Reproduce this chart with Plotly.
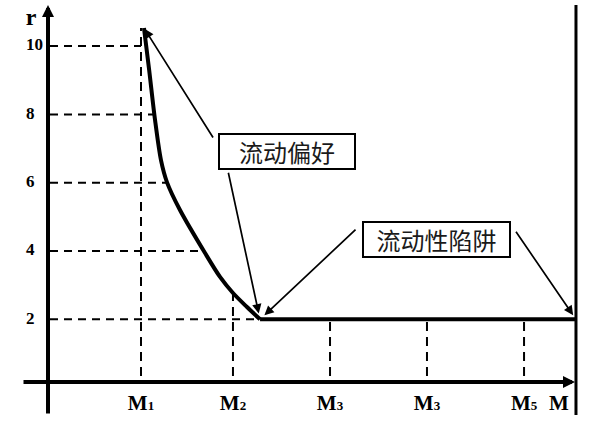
import numpy as np
import plotly.graph_objects as go

# ---------------- data ----------------
r_ticks = [2, 4, 6, 8, 10]
r_tick_labels = ["2", "4", "6", "8", "10"]

m_pos = [1.0, 1.958, 2.969, 3.979, 4.990]
m_names = ["M", "M", "M", "M", "M"]
m_subs = ["1", "2", "3", "3", "5"]
m_axis_label = "M"
r_axis_label = "r"

# liquidity-preference curve
curve_x = [1.031, 1.085, 1.146, 1.208, 1.271, 1.406, 1.667, 1.823, 1.958, 2.104, 2.240]
curve_y = [10.53, 9.30, 7.84, 6.66, 6.01, 5.20, 3.94, 3.24, 2.77, 2.36, 2.00]
# liquidity trap (flat part)
trap_x = [2.240, 5.531]
trap_y = [2.0, 2.0]

box1_text = "流动偏好"
box2_text = "流动性陷阱"

# ---------------- geometry of the canvas ----------------
W, H = 600, 428
X0, XS = 45.0, 96.0        # pixel of x=0, pixels per unit
Y0, YS = 387.6, 34.15      # pixel of r=0, pixels per unit
x_range = [-X0 / XS, (W - X0) / XS]
y_range = [(Y0 - H) / YS, Y0 / YS]

def px(p):   # pixel -> x data
    return (p - X0) / XS

def py(p):   # pixel -> y data
    return (Y0 - p) / YS

fig = go.Figure()

# dashed guide lines
cx_rev = curve_x[::-1]
cy_rev = curve_y[::-1]
h_end = [float(np.interp(r, cy_rev, cx_rev)) for r in r_ticks]
h_end[-1] = m_pos[0]          # the r=10 guide stops at the M1 guide
hx, hy = [], []
for r, e in zip(r_ticks, h_end):
    hx += [px(50), e, None]
    hy += [r, r, None]
fig.add_trace(go.Scatter(x=hx, y=hy, mode="lines",
                         line=dict(color="black", width=2, dash="8px,6px"),
                         hoverinfo="skip"))

v_top = [curve_y[0], float(np.interp(m_pos[1], curve_x, curve_y)) + 0.1] + [trap_y[0]] * 3
vx, vy = [], []
for m, t in zip(m_pos, v_top):
    vx += [m, m, None]
    vy += [py(376), t, None]
fig.add_trace(go.Scatter(x=vx, y=vy, mode="lines",
                         line=dict(color="black", width=2, dash="9px,6px"),
                         hoverinfo="skip"))

# curve
fig.add_trace(go.Scatter(x=curve_x, y=curve_y, mode="lines",
                         line=dict(color="black", width=4, shape="spline", smoothing=0.8),
                         hoverinfo="skip"))
fig.add_trace(go.Scatter(x=trap_x, y=trap_y, mode="lines",
                         line=dict(color="black", width=4),
                         hoverinfo="skip"))

# right boundary line
fig.add_trace(go.Scatter(x=[trap_x[1], trap_x[1]], y=[py(415), py(5)], mode="lines",
                         line=dict(color="black", width=3), hoverinfo="skip"))

serif = "Liberation Serif"
# r tick labels (left aligned)
fig.add_trace(go.Scatter(x=[px(26)] * len(r_ticks), y=r_ticks, mode="text",
                         text=r_tick_labels, textposition="middle right",
                         textfont=dict(family=serif, size=17, color="black", weight="bold"),
                         hoverinfo="skip"))
# M tick labels (small subscript sitting near the baseline)
m_text = [f'{n}<span style="font-size:13px">{s}</span>' for n, s in zip(m_names, m_subs)]
fig.add_trace(go.Scatter(x=m_pos + [px(559)], y=[py(405)] * (len(m_pos) + 1), mode="text",
                         text=m_text + [m_axis_label],
                         textposition="middle center",
                         textfont=dict(family=serif, size=21, color="black", weight="bold"),
                         hoverinfo="skip"))
# r axis label
fig.add_trace(go.Scatter(x=[px(31)], y=[py(19)], mode="text", text=[r_axis_label],
                         textposition="middle center",
                         textfont=dict(family=serif, size=24, color="black", weight="bold"),
                         hoverinfo="skip"))

ann = []
# axes with arrowheads
ann.append(dict(x=px(48), y=py(5), ax=px(48), ay=py(415), xref="x", yref="y",
                axref="x", ayref="y", showarrow=True, arrowhead=2, arrowsize=0.6,
                arrowwidth=4, arrowcolor="black", text=""))
ann.append(dict(x=px(575), y=py(382), ax=px(22), ay=py(382), xref="x", yref="y",
                axref="x", ayref="y", showarrow=True, arrowhead=2, arrowsize=0.6,
                arrowwidth=4, arrowcolor="black", text=""))

cjk = "Noto Sans CJK SC"
# text boxes
ann.append(dict(x=px(287), y=py(151), xref="x", yref="y", text=box1_text, showarrow=False,
                font=dict(family=cjk, size=24, color="#1a1a1a"),
                bordercolor="black", borderwidth=2, borderpad=1, width=132, height=31,
                bgcolor="white"))
ann.append(dict(x=px(436.5), y=py(239), xref="x", yref="y", text=box2_text, showarrow=False,
                font=dict(family=cjk, size=24, color="#1a1a1a"),
                bordercolor="black", borderwidth=2, borderpad=1, width=143, height=31,
                bgcolor="white"))

# pointer arrows
thin = dict(showarrow=True, arrowhead=2, arrowsize=1.1, arrowwidth=1.7,
            arrowcolor="black", text="", xref="x", yref="y")
ann.append(dict(x=curve_x[0], y=curve_y[0], ax=70, ay=111, standoff=1, **thin))
ann.append(dict(x=trap_x[0], y=trap_y[0], ax=-32, ay=-148, standoff=6, **thin))
ann.append(dict(x=trap_x[0], y=trap_y[0], ax=97, ay=-91, standoff=6, **thin))
ann.append(dict(x=trap_x[1], y=trap_y[1], ax=-61, ay=-89, standoff=5, **thin))

fig.update_layout(
    width=W, height=H,
    margin=dict(l=0, r=0, t=0, b=0),
    paper_bgcolor="white", plot_bgcolor="white",
    showlegend=False,
    xaxis=dict(range=x_range, visible=False, fixedrange=True),
    yaxis=dict(range=y_range, visible=False, fixedrange=True),
    annotations=ann,
)

fig.write_html("out.html",
               config={"displayModeBar": False, "staticPlot": True},
               post_script="document.body.style.margin='0';document.body.style.overflow='hidden';")
